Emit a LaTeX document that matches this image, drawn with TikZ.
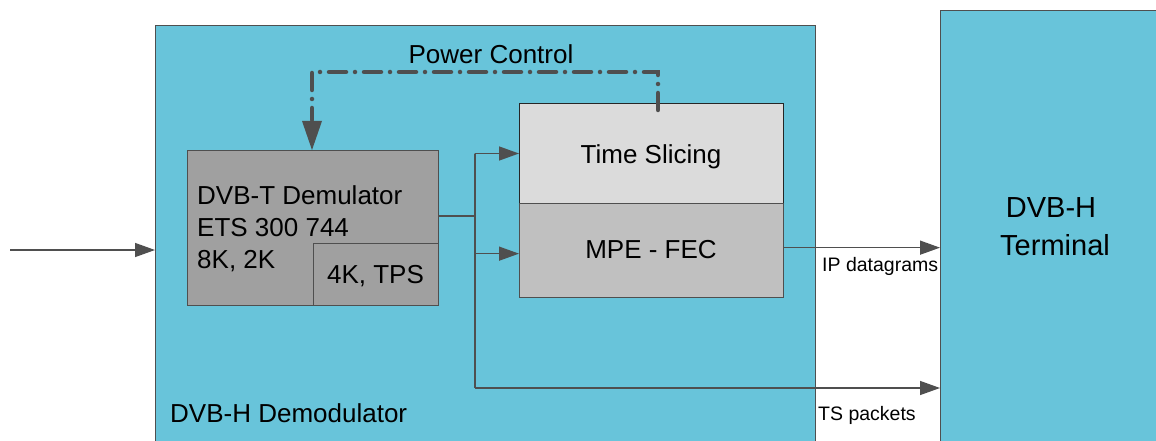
\documentclass[tikz,border=0pt]{standalone}
\usepackage{fontspec}
\setmainfont{Liberation Sans}
\usetikzlibrary{arrows.meta,calc}
\definecolor{cyanbg}{HTML}{68C4DA}
\definecolor{linegrey}{HTML}{4F4F4F}
\definecolor{darkbox}{HTML}{A0A0A0}
\definecolor{lightbox}{HTML}{DBDBDB}
\definecolor{midbox}{HTML}{C0C0C0}
\tikzset{
  box/.style={draw=linegrey, line width=1.3pt, rectangle, anchor=north west, inner sep=0pt},
  arr/.style={draw=linegrey, line width=1.4pt, -{Triangle[length=20pt,width=14pt]}},
  conn/.style={draw=linegrey, line width=1.4pt},
  txt/.style={inner sep=0pt, font=\fontsize{26}{31}\selectfont},
  small/.style={inner sep=0pt, font=\fontsize{19.5}{23}\selectfont},
  big/.style={inner sep=0pt, font=\fontsize{29}{34}\selectfont},
  powerline/.style={draw=linegrey, line width=4.5pt, line cap=round,
    dash pattern={on 17pt off 9pt on 0pt off 9pt}},
}
\begin{document}
\begin{tikzpicture}[x=1pt,y=-1pt]
\useasboundingbox (0,0) rectangle (1156,441);
\clip (0,0) rectangle (1156,441);
\fill[white] (0,0) rectangle (1156,441);
% outer boxes
\node[box, fill=cyanbg, minimum width=660pt, minimum height=440pt] (demod) at (155,25) {};
\node[box, fill=cyanbg, minimum width=240pt, minimum height=460pt] (term) at (940,10) {};
% inner boxes
\node[box, fill=darkbox, minimum width=251pt, minimum height=155pt] (dvbt) at (187,150) {};
\node[box, fill=darkbox, minimum width=125pt, minimum height=62pt] (tps) at (313,243) {};
\node[box, fill=lightbox, draw=black!85, line width=1pt, minimum width=264pt, minimum height=100pt] (ts) at (519,103) {};
\node[box, fill=midbox, minimum width=264pt, minimum height=94pt] (mpe) at (519,203) {};
% texts
\node[txt, anchor=base west] (dA) at (197,204) {DVB-T Demulator};
\node[txt, anchor=base west] (dB) at (197,236) {ETS 300 744};
\node[txt, anchor=base west] (dC) at (197,268) {8K, 2K};
\node[txt, anchor=base] (tpsT) at (375.5,283) {4K, TPS};
\node[txt, anchor=base] (tsT) at (651,164) {Time Slicing};
\node[txt, anchor=base] (mpeT) at (651,258) {MPE - FEC};
\node[txt, anchor=base] (pc) at (491,64) {Power Control};
\node[txt, anchor=base west] (demT) at (170,422) {DVB-H Demodulator};
\node[big, anchor=base] (termA) at (1051,217) {DVB-H};
\node[big, anchor=base] (termB) at (1055,255) {Terminal};
\node[small, anchor=base west] (ipT) at (822,271) {IP datagrams};
\node[small, anchor=base west] (tsp) at (818,420) {TS packets};
% coordinates
\coordinate (in) at (10,250);
\coordinate (split) at (475,216);
\coordinate (tsrow) at (475,388);
\coordinate (mpeIn) at ([yshift=-3pt]mpe.west);
\coordinate (mpeOut) at ([yshift=3pt]mpe.east);
\coordinate (pcR) at (658,110);
\coordinate (pcTopR) at (658,72);
\coordinate (pcTopL) at (312,72);
\coordinate (pcTip) at (pcTopL |- dvbt.north);
% connectors
\draw[arr] (in) -- (in -| demod.west);
\draw[conn] (dvbt.east |- split) -- (split);
\draw[conn] (split) -- (split |- ts.west) -- (tsrow);
\draw[arr] (split |- ts.west) -- (ts.west);
\draw[arr] (split |- mpeIn) -- (mpeIn);
\draw[arr] (tsrow) -- (tsrow -| term.west);
\draw[arr] (mpeOut) -- (mpeOut -| term.west);
% power control
\draw[powerline] (pcR) -- (pcTopR) -- (pcTopL) -- ($(pcTip)+(0,-30)$);
\fill[linegrey] (pcTip) -- ++(-10,-29) -- ++(20,0) -- cycle;
\end{tikzpicture}
\end{document}
